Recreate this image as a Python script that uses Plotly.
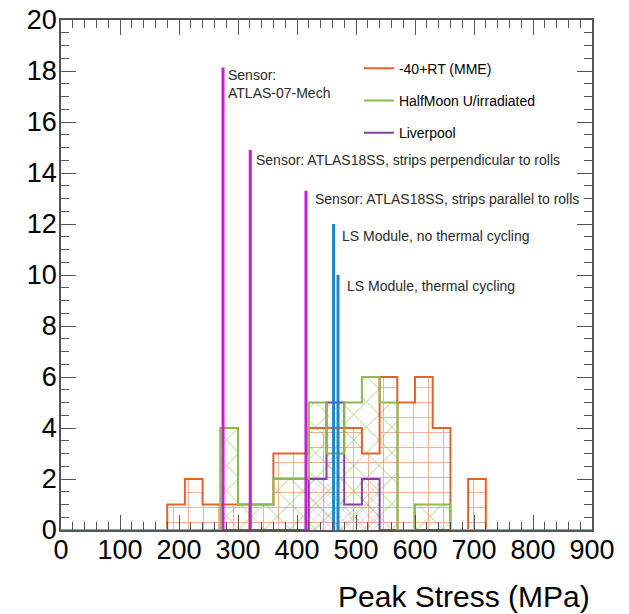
import plotly.graph_objects as go

# ---- data ----
bin_width = 30
bin_edges = list(range(0, 901, 30))  # 0..900, 30 bins

# counts per 30 MPa bin, keyed by bin low edge
mme_counts = {180: 1, 210: 2, 240: 1, 270: 1, 300: 1, 330: 1, 360: 3, 390: 3,
              420: 4, 450: 4, 480: 4, 510: 3, 540: 6, 570: 5, 600: 6, 630: 4,
              690: 2}
halfmoon_counts = {270: 4, 300: 1, 330: 1, 360: 2, 390: 2, 420: 5, 450: 3,
                   480: 5, 510: 6, 540: 5, 600: 1, 630: 1}
liverpool_counts = {420: 2, 450: 5, 480: 1, 510: 2}

series_names = ["-40+RT (MME)", "HalfMoon U/irradiated", "Liverpool"]
series_colors = ["#E5622D", "#8DBA4C", "#8A3DA0"]
series_patterns = ["+", "x", "x"]
series_psize = [15, 18, 7]

sensor_x = [274.6, 320.8, 415.2]
sensor_top = [18.14, 14.9, 13.3]
module_x = [462.0, 469.5]
module_top = [12.0, 10.0]

label_texts = ["Sensor:<br>ATLAS-07-Mech",
               "Sensor: ATLAS18SS, strips perpendicular to rolls",
               "Sensor: ATLAS18SS, strips parallel to rolls",
               "LS Module, no thermal cycling",
               "LS Module, thermal cycling"]
label_x = [279.5, 326.5, 426.5, 473.0, 481.5]
label_y = [17.48, 14.51, 13.0, 11.53, 9.57]

x_ticks = list(range(0, 901, 100))
y_ticks = list(range(0, 21, 2))

# ---- figure ----
fig = go.Figure()
all_counts = [mme_counts, halfmoon_counts, liverpool_counts]
lows = bin_edges[:-1]

# hatched fills
for counts, col, pat, ps in zip(all_counts, series_colors, series_patterns, series_psize):
    ys = [counts.get(e, 0) for e in lows]
    fig.add_trace(go.Bar(
        x=[e + bin_width / 2 for e in lows], y=ys, width=bin_width,
        marker=dict(color="rgba(0,0,0,0)", line=dict(width=0),
                    pattern=dict(shape=pat, fgcolor=col, bgcolor="rgba(0,0,0,0)",
                                 size=ps, solidity=0.13, fillmode="overlay")),
        showlegend=False, hoverinfo="skip"))

# step outlines (order: orange, purple, green so green baseline on top)
draw_order = [0, 2, 1]
for i in draw_order:
    counts = all_counts[i]
    ys = [counts.get(e, 0) for e in lows]
    sx = [bin_edges[0]] + lows + [bin_edges[-1], bin_edges[-1]]
    sy = [0] + ys + [ys[-1], 0]
    fig.add_trace(go.Scatter(
        x=sx, y=sy, mode="lines", line=dict(color=series_colors[i], width=2, shape="hv"),
        name=series_names[i], legendrank=i + 1, legendgroup=str(i), hoverinfo="skip"))

# vertical reference lines
def vlines(xs, tops):
    vx, vy = [], []
    for x, t in zip(xs, tops):
        vx += [x, x, None]
        vy += [0, t, None]
    return vx, vy

vx, vy = vlines(sensor_x, sensor_top)
fig.add_trace(go.Scatter(x=vx, y=vy, mode="lines", line=dict(color="#C81CD6", width=3),
                         showlegend=False, hoverinfo="skip"))
vx, vy = vlines(module_x, module_top)
fig.add_trace(go.Scatter(x=vx, y=vy, mode="lines", line=dict(color="#1E86C8", width=3),
                         showlegend=False, hoverinfo="skip"))

for t, x, y in zip(label_texts, label_x, label_y):
    fig.add_annotation(x=x, y=y, text=t, showarrow=False, xanchor="left", yanchor="middle",
                       align="left", font=dict(size=14, color="#2a2a2a"))

fig.add_annotation(x=1.0, y=-0.131, xref="paper", yref="paper", text="Peak Stress (MPa)",
                   showarrow=False, xanchor="right", yanchor="middle",
                   font=dict(size=30, color="black"))

axis_common = dict(showline=True, linecolor="#555555", linewidth=1.5, mirror="ticks",
                   ticks="inside", ticklen=15, tickcolor="#555555", tickwidth=1.2,
                   showgrid=False, zeroline=False, automargin=False,
                   tickfont=dict(size=27, color="black",
                                 family="Liberation Sans, Arial, sans-serif"))

fig.update_xaxes(range=[0, 900], tickvals=x_ticks, ticktext=[str(v) for v in x_ticks],
                 minor=dict(dtick=20, ticks="inside", ticklen=8, tickcolor="#555555"),
                 ticklabelstandoff=-5, **axis_common)
fig.update_yaxes(range=[0, 20], tickvals=y_ticks, ticktext=[str(v) for v in y_ticks],
                 minor=dict(dtick=0.5, ticks="inside", ticklen=8, tickcolor="#555555"),
                 ticklabelstandoff=-3, **axis_common)

fig.update_layout(
    width=629, height=614,
    margin=dict(l=61, r=37, t=20, b=84),
    paper_bgcolor="white", plot_bgcolor="white",
    barmode="overlay", bargap=0,
    font=dict(family="Liberation Sans, Arial, sans-serif"),
    legend=dict(x=0.561, y=0.936, xanchor="left", yanchor="top",
                bgcolor="rgba(0,0,0,0)", font=dict(size=14, color="black"),
                traceorder="grouped", tracegroupgap=11, itemwidth=30),
)

fig.write_html("out.html")
